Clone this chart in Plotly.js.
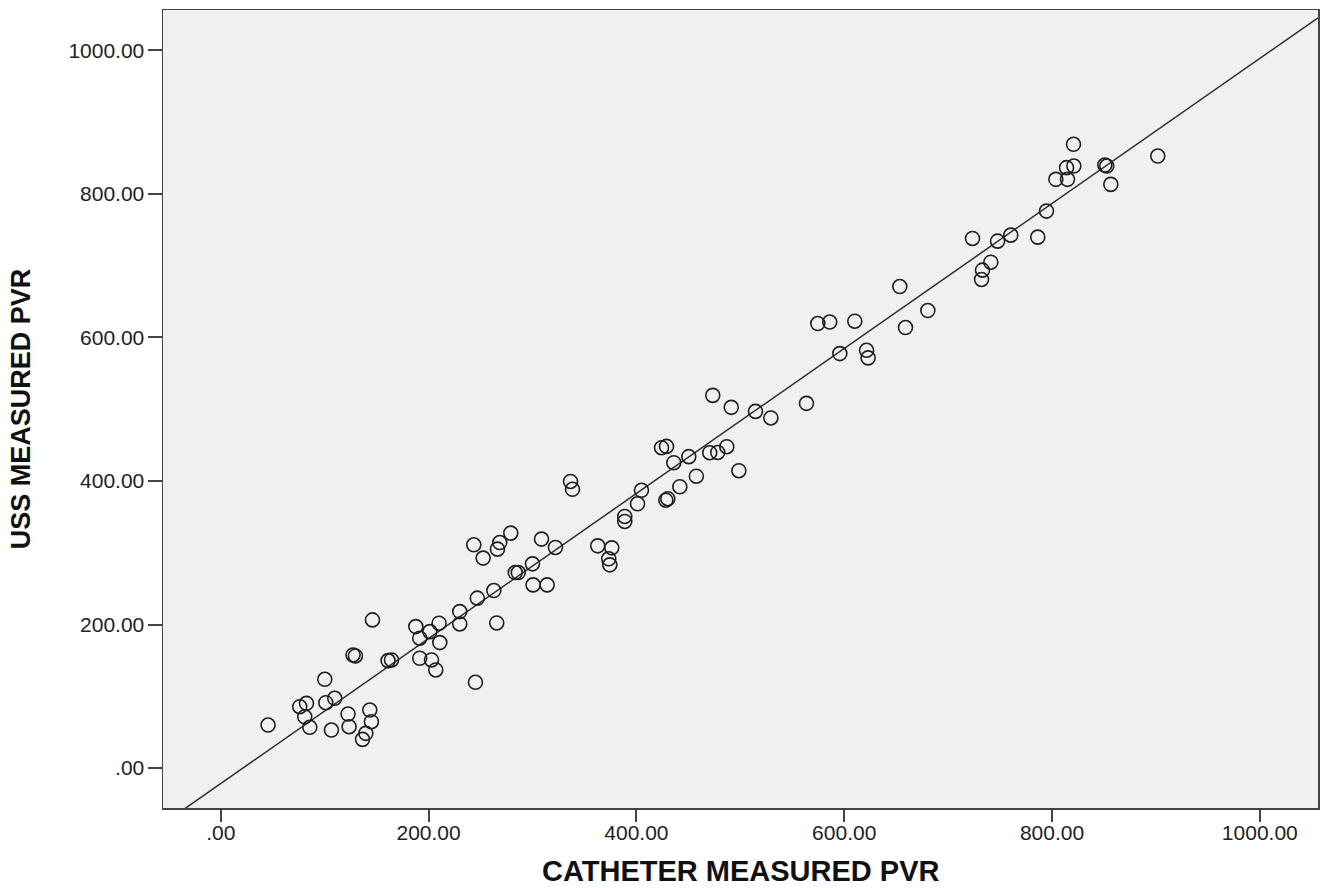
<!DOCTYPE html>
<html>
<head>
<meta charset="utf-8">
<script src="https://cdn.plot.ly/plotly-3.0.1.min.js"></script>
<style>
html,body{margin:0;padding:0;background:#fff;}
#chart{width:1320px;height:888px;}
</style>
</head>
<body>
<div id="chart"></div>
<script>
// Catheter-measured PVR (x) vs USS-measured PVR (y)
var catheterPVR = [
  45.5, 76.0, 82.5, 80.8, 85.7, 100.1, 101.1, 109.7, 106.5, 122.5,
  123.5, 127.3, 129.6, 146.0, 143.4, 145.0, 139.6, 136.4, 161.0, 164.3,
  187.7, 191.5, 191.5, 201.2, 202.8, 206.9, 210.1, 210.8, 230.0, 230.0,
  245.1, 246.9, 243.5, 252.5, 262.8, 265.6, 266.3, 268.5, 279.1, 283.4,
  286.3, 300.0, 300.6, 308.7, 314.1, 322.1, 336.6, 338.5, 362.8, 376.3,
  373.4, 374.4, 388.8, 388.8, 401.1, 404.9, 424.2, 429.0, 428.3, 430.2,
  436.0, 441.8, 450.4, 457.7, 473.5, 470.6, 478.3, 487.0, 491.3, 498.6,
  514.6, 529.4, 563.7, 574.6, 586.1, 595.8, 610.2, 621.5, 623.0, 653.5,
  659.0, 680.5, 723.5, 732.2, 733.1, 741.1, 747.6, 760.3, 786.3, 794.7,
  803.7, 814.0, 814.9, 821.0, 820.7, 850.8, 852.7, 856.6, 901.8
];
var ussPVR = [
  60.0, 85.5, 90.2, 71.5, 56.8, 123.7, 91.1, 97.2, 53.0, 75.3,
  57.6, 157.6, 156.2, 206.4, 80.9, 64.6, 48.4, 40.0, 149.7, 150.6,
  197.1, 180.9, 153.0, 190.1, 150.6, 136.7, 201.8, 174.8, 200.8, 218.0,
  119.5, 236.7, 311.0, 292.5, 247.3, 202.2, 305.0, 314.2, 327.3, 272.4,
  272.4, 284.5, 255.2, 319.0, 255.2, 307.3, 399.3, 388.4, 309.6, 306.8,
  291.5, 283.1, 350.5, 343.5, 368.2, 387.0, 446.3, 448.1, 373.1, 375.2,
  425.4, 391.9, 433.8, 406.6, 519.2, 439.3, 439.7, 447.7, 502.5, 414.2,
  496.9, 487.7, 508.1, 619.2, 621.3, 577.4, 622.5, 582.0, 571.4, 670.8,
  613.7, 637.4, 737.8, 680.6, 693.6, 704.7, 734.0, 742.4, 739.6, 775.9,
  820.1, 836.4, 820.1, 838.6, 868.9, 840.0, 838.6, 813.1, 852.6
];

// Fit line
var fitIntercept = -21.5;
var fitSlope = 1.01;

// Axis setup
var axisRange = [-55.6, 1056];
var tickValues = [0, 200, 400, 600, 800, 1000];
var tickLabels = ['.00', '200.00', '400.00', '600.00', '800.00', '1000.00'];

var xTitle = 'CATHETER MEASURED PVR';
var yTitle = 'USS MEASURED PVR';

var fitX = axisRange.slice();
var fitY = fitX.map(function (v) { return fitIntercept + fitSlope * v; });

var traces = [
  {
    type: 'scatter', mode: 'lines',
    x: fitX, y: fitY,
    line: {color: '#2b2b2b', width: 1.5},
    hoverinfo: 'skip', showlegend: false
  },
  {
    type: 'scatter', mode: 'markers',
    x: catheterPVR, y: ussPVR,
    marker: {symbol: 'circle-open', size: 14, color: '#1e1e1e', line: {width: 1.6, color: '#1e1e1e'}},
    showlegend: false
  }
];

var tickFont = {family: 'Liberation Sans, Arial, sans-serif', size: 21, color: '#222'};
var titleFontBase = {family: 'Liberation Sans, Arial, sans-serif', color: '#111', weight: 'bold'};

var layout = {
  width: 1320, height: 888,
  margin: {l: 163, r: 2, t: 10, b: 80},
  paper_bgcolor: '#ffffff',
  plot_bgcolor: '#f0f0f0',
  showlegend: false,
  xaxis: {
    range: axisRange,
    tickmode: 'array', tickvals: tickValues, ticktext: tickLabels,
    ticks: 'outside', ticklen: 12, tickwidth: 2, tickcolor: '#444',
    ticklabelstandoff: -7,
    showgrid: false, zeroline: false, automargin: false,
    showline: true, mirror: true, linecolor: '#444', linewidth: 1.5,
    tickfont: tickFont
  },
  yaxis: {
    range: axisRange,
    tickmode: 'array', tickvals: tickValues, ticktext: tickLabels,
    ticks: 'outside', ticklen: 14, tickwidth: 2, tickcolor: '#444',
    ticklabelstandoff: -1,
    showgrid: false, zeroline: false, automargin: false,
    showline: true, mirror: true, linecolor: '#444', linewidth: 1.5,
    tickfont: tickFont,
    title: {text: '<b>' + yTitle + '</b>', font: Object.assign({}, titleFontBase, {size: 27}), standoff: 30}
  },
  annotations: [{
    text: '<b>' + xTitle + '</b>',
    xref: 'paper', yref: 'paper',
    x: 0.5, y: -0.079, xanchor: 'center', yanchor: 'middle',
    showarrow: false,
    font: Object.assign({}, titleFontBase, {size: 29})
  }]
};

Plotly.newPlot('chart', traces, layout, {displayModeBar: false, staticPlot: true});
</script>
</body>
</html>
